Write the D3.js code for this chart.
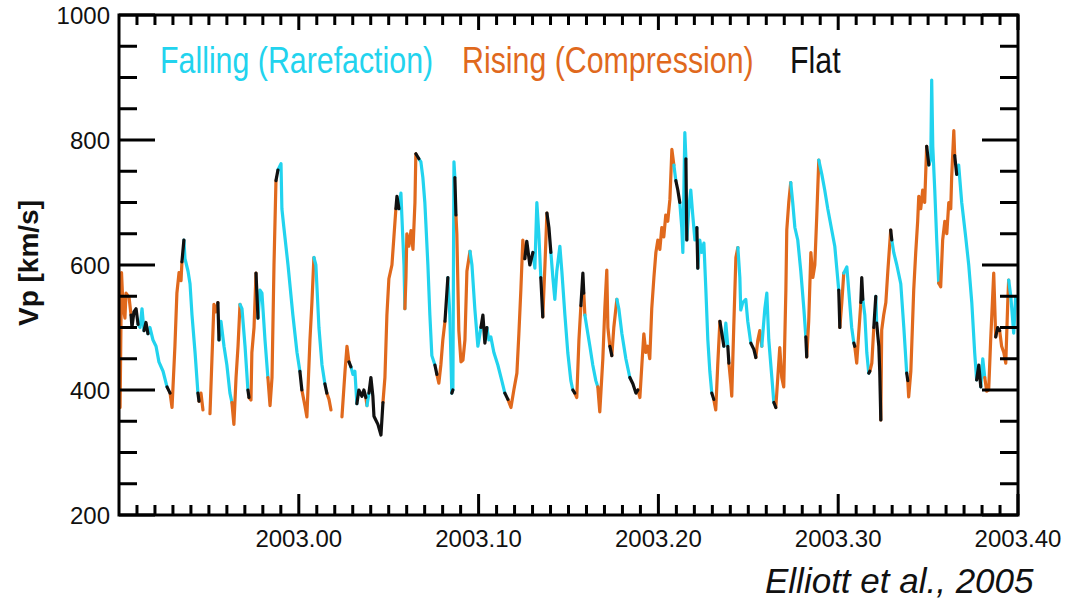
<!DOCTYPE html>
<html>
<head>
<meta charset="utf-8">
<script src="https://cdn.jsdelivr.net/npm/d3@7/dist/d3.min.js"></script>
<style>
  html, body { margin: 0; padding: 0; background: #fff; }
  svg { display: block; }
  text { font-family: "Liberation Sans", Arial, Helvetica, sans-serif; }
</style>
</head>
<body>
<svg id="chart" width="1071" height="604"></svg>
<script>
// ---- DATA ----
const years = [
2002.9006,2002.9014,2002.9022,2002.9033,2002.9039,2002.9056,2002.9067,2002.9072,2002.9083,2002.9095,2002.9106,2002.9117,2002.9128,2002.9139,2002.9150,2002.9161,2002.9172,2002.9189,2002.9206,2002.9222,2002.9245,2002.9267,2002.9284,2002.9295,2002.9311,2002.9322,2002.9334,2002.9345,2002.9350,2002.9361,2002.9367,2002.9384,2002.9395,2002.9406,2002.9423,2002.9439,2002.9445,2002.9456,2002.9467,2002.9485,
2002.9506,2002.9517,2002.9528,2002.9539,2002.9550,2002.9556,2002.9567,2002.9584,2002.9600,2002.9617,2002.9628,2002.9639,2002.9651,2002.9662,2002.9673,2002.9684,2002.9701,2002.9717,2002.9723,2002.9734,2002.9739,2002.9751,2002.9762,2002.9773,2002.9784,2002.9795,2002.9812,2002.9828,2002.9840,2002.9851,2002.9862,2002.9873,2002.9884,2002.9901,2002.9906,2002.9917,2002.9940,2002.9967,2002.9990,2003.0006,
2003.0017,2003.0034,2003.0045,2003.0062,2003.0073,2003.0084,2003.0095,2003.0112,2003.0129,2003.0145,2003.0156,2003.0168,2003.0179,2003.0210,2003.0240,2003.0257,2003.0268,2003.0279,2003.0290,2003.0301,
2003.0312,2003.0323,2003.0334,2003.0351,2003.0362,2003.0373,2003.0379,2003.0390,2003.0401,2003.0412,2003.0418,2003.0440,2003.0457,2003.0468,2003.0479,2003.0490,2003.0501,2003.0518,2003.0529,2003.0540,
2003.0546,2003.0557,2003.0568,2003.0573,2003.0585,2003.0590,2003.0596,2003.0601,2003.0612,2003.0624,2003.0635,2003.0646,2003.0651,2003.0668,2003.0679,2003.0690,2003.0701,2003.0707,2003.0718,2003.0729,
2003.0740,2003.0757,2003.0768,2003.0779,2003.0790,2003.0801,2003.0813,2003.0829,2003.0840,2003.0851,2003.0857,2003.0863,2003.0868,2003.0874,2003.0879,2003.0890,2003.0902,2003.0913,2003.0924,2003.0935,
2003.0952,2003.0963,2003.0979,2003.0996,2003.1013,2003.1024,2003.1035,2003.1046,2003.1057,2003.1068,2003.1085,2003.1107,2003.1129,2003.1146,2003.1163,2003.1180,2003.1196,2003.1213,2003.1224,2003.1235,
2003.1246,2003.1257,2003.1268,2003.1285,2003.1302,2003.1313,2003.1324,2003.1335,2003.1346,2003.1357,2003.1369,2003.1380,2003.1391,2003.1402,2003.1413,2003.1424,2003.1435,2003.1452,2003.1463,2003.1480,
2003.1496,2003.1513,2003.1524,2003.1535,2003.1546,2003.1558,2003.1569,2003.1580,2003.1585,2003.1591,2003.1602,2003.1619,2003.1635,2003.1652,2003.1663,2003.1674,2003.1691,2003.1702,2003.1713,2003.1719,
2003.1730,2003.1741,2003.1752,2003.1769,2003.1780,2003.1797,2003.1819,2003.1841,2003.1858,2003.1875,2003.1886,2003.1897,2003.1908,2003.1919,2003.1930,2003.1941,2003.1952,2003.1963,2003.1975,2003.1986,
2003.1997,2003.2008,2003.2019,2003.2030,2003.2041,2003.2052,2003.2064,2003.2075,2003.2086,2003.2097,2003.2108,2003.2119,2003.2130,2003.2136,2003.2147,2003.2153,2003.2158,2003.2169,2003.2180,2003.2191,
2003.2203,2003.2214,2003.2219,2003.2230,2003.2241,2003.2253,2003.2264,2003.2275,2003.2286,2003.2297,2003.2308,2003.2319,2003.2330,2003.2342,2003.2364,2003.2375,2003.2386,2003.2392,2003.2403,2003.2408,
2003.2419,2003.2431,2003.2442,2003.2453,2003.2458,2003.2469,2003.2486,2003.2497,2003.2514,2003.2531,2003.2542,2003.2553,2003.2564,2003.2575,2003.2592,2003.2603,2003.2614,2003.2631,2003.2642,2003.2653,
2003.2664,2003.2675,2003.2686,2003.2697,2003.2709,2003.2714,2003.2725,2003.2736,2003.2747,2003.2759,2003.2775,2003.2792,2003.2809,2003.2820,2003.2825,2003.2836,2003.2848,2003.2859,2003.2870,2003.2881,
2003.2892,2003.2909,2003.2925,2003.2942,2003.2964,2003.2981,2003.3003,2003.3009,2003.3020,2003.3031,2003.3048,2003.3064,2003.3075,2003.3087,2003.3092,2003.3103,2003.3114,2003.3126,2003.3131,2003.3137,
2003.3148,2003.3159,2003.3170,2003.3176,2003.3187,2003.3198,2003.3209,2003.3214,2003.3226,2003.3231,2003.3237,2003.3242,2003.3253,2003.3265,2003.3276,2003.3292,2003.3298,2003.3309,2003.3326,2003.3348,
2003.3365,2003.3381,2003.3387,2003.3392,2003.3404,2003.3420,2003.3431,2003.3442,2003.3448,2003.3459,2003.3470,2003.3481,2003.3492,2003.3504,2003.3515,2003.3520,2003.3526,2003.3537,2003.3548,2003.3559,
2003.3570,2003.3581,2003.3593,2003.3604,2003.3615,2003.3626,2003.3631,2003.3643,2003.3648,2003.3659,2003.3670,2003.3687,2003.3709,2003.3726,2003.3743,2003.3759,2003.3770,2003.3782,2003.3793,2003.3804,
2003.3815,2003.3826,2003.3837,2003.3848,2003.3865,2003.3876,2003.3887,2003.3898,2003.3909,2003.3921,2003.3932,2003.3943,2003.3948,2003.3960,2003.3976,2003.3987
];

// solar wind speed Vp [km/s]; null = data gap
const speeds = [
372,588,535,515,555,548,520,500,525,530,505,500,530,495,508,490,500,480,470,445,430,405,395,372,470,555,588,575,605,640,610,590,570,520,460,395,382,395,368,null,
362,450,537,525,540,480,510,470,440,395,380,345,420,470,537,530,470,400,388,384,460,500,587,515,560,555,480,420,375,420,600,735,752,762,690,660,600,520,460,430,
400,375,357,480,540,612,600,500,440,410,395,385,368,null,357,430,470,445,437,425,
430,378,400,390,400,388,375,395,420,390,358,345,328,380,420,520,578,600,645,690,
710,690,715,680,600,530,580,650,630,655,625,700,778,770,765,740,700,665,600,520,
455,440,425,411,440,480,510,580,520,395,400,765,740,680,650,495,445,448,480,590,
622,600,530,470,500,520,475,500,480,485,460,440,415,395,385,372,400,427,490,560,
640,610,638,600,620,595,700,650,580,517,600,683,660,620,580,545,590,630,590,520,
460,415,400,395,388,480,535,587,555,520,500,470,440,415,405,365,450,530,592,500,
470,455,500,545,530,490,450,420,410,395,400,388,440,490,460,470,450,530,580,620,
640,625,660,645,680,670,705,785,760,735,720,700,660,620,812,770,640,690,720,680,
640,660,595,640,620,635,560,480,430,395,385,368,440,510,470,507,470,443,410,390,
500,612,628,580,528,540,545,510,475,465,452,480,495,470,530,555,480,420,380,372,
420,468,420,405,560,656,700,732,700,660,640,590,530,485,453,510,620,580,600,680,
768,745,720,690,656,630,560,500,540,587,597,540,500,475,470,443,490,540,580,545,
520,460,427,430,443,500,550,507,470,430,352,496,520,540,590,656,640,620,600,570,
500,427,415,389,430,560,619,670,710,690,720,700,790,760,770,896,790,720,640,571,
565,640,670,650,700,690,740,815,775,745,760,700,645,600,540,460,416,440,405,450,
420,398,400,480,587,485,500,495,470,460,443,540,576,550,491,550
];

// regime of the stretch ending at each sample: F = falling, R = rising, N = flat
const regimeCodes = (
"RRRRRRRNNNNFFFNNFFFFFFNRRRRRRNFFFFFFNRRR" +
"RRRRRNFFFFFRRRRFFFNRRRRNFFFFRRRRNFFFFFFF" +
"NRRRRRFFFFNRRRRRRRNFFFNNNNRFNNNNNNRRRRRR" +
"NNFFFFRRRRRRRNFFFFFFFFNRRRRNFFNFFNRRRRRR" +
"RFFFFNNNFFFFFFNRRRRRRRNNNFFFFNRRNNFFFFFF" +
"FFFNRRRNNRFFFFFRRRRRRNRRFFFFNNNRRRRRRRRR" +
"RRRRRRRRRFNNFFFFNFFFFFNFFFFFFFNRRRNFFNRR" +
"RRRFFFFFFNNRRRFFFFFNRRRRRRRRFFFFFFNRRRRR" +
"RFFFFFFNRRFFFFNRRRNNFFFNRRNFNNNRRRRRNFFF" +
"FFNRRRRRRRRRRNFFFFFFRRRRRRRRRNFFFFFFFNNF" +
"FRRRRRNNRRRRRFFF").split("");

const legendLabels = ["Falling (Rarefaction)", "Rising (Compression)", "Flat"];
const legendCodes = ["F", "R", "N"];
const xTickValues = [2003.00, 2003.10, 2003.20, 2003.30, 2003.40];
const yTickValues = [200, 400, 600, 800, 1000];
const citation = "Elliott et al., 2005";
const yTitle = "Vp [km/s]";

// ---- LAYOUT ----
const colors = { F: "#22d3ee", R: "#e0691d", N: "#111111" };
const svg = d3.select("#chart");
const m = { left: 119, right: 1018, top: 15, bottom: 515 };

svg.append("rect").attr("width", 1071).attr("height", 604).attr("fill", "#fff");

const x = d3.scaleLinear().domain([2002.9, 2003.4]).range([m.left, m.right]);
const y = d3.scaleLinear().domain([200, 1000]).range([m.bottom, m.top]);

// ---- series, split into runs by regime ----
const pts = years.map((t, i) => ({ t, v: speeds[i], c: regimeCodes[i] }));
const runs = [];
let cur = null;
for (let i = 1; i < pts.length; i++) {
  const a = pts[i - 1], b = pts[i];
  if (a.v == null || b.v == null) { cur = null; continue; }
  if (cur && cur.c === b.c) { cur.p.push(b); }
  else { cur = { c: b.c, p: [a, b] }; runs.push(cur); }
}
const lineGen = d3.line().x(d => x(d.t)).y(d => y(d.v));
const order = { F: 0, R: 0, N: 1 };
svg.append("g").selectAll("path")
  .data(runs.slice().sort((a, b) => order[a.c] - order[b.c]))
  .join("path")
  .attr("d", d => lineGen(d.p))
  .attr("fill", "none")
  .attr("stroke", d => colors[d.c])
  .attr("stroke-width", 3.2)
  .attr("stroke-linejoin", "round")
  .attr("stroke-linecap", "round");

// ---- inward ticks: one small rect per tick, built from the scales ----
const xMinor = d3.range(1, 50).filter(i => i % 10 !== 0).map(i => 2002.9 + i * 0.01);
const yMinor = d3.range(250, 1000, 50).filter(v => v % 200 !== 0);
const tickRects = [];
yTickValues.forEach(v => {
  tickRects.push({ x: m.left, y: y(v) - 1.5, w: 36, h: 3 });
  tickRects.push({ x: m.right - 36, y: y(v) - 1.5, w: 36, h: 3 });
});
yMinor.forEach(v => {
  tickRects.push({ x: m.left, y: y(v) - 1.5, w: 18, h: 3 });
  tickRects.push({ x: m.right - 18, y: y(v) - 1.5, w: 18, h: 3 });
});
xTickValues.forEach(v => {
  tickRects.push({ x: x(v) - 1.5, y: m.bottom - 21, w: 3, h: 21 });
  tickRects.push({ x: x(v) - 1.5, y: m.top, w: 3, h: 15 });
});
xMinor.forEach(v => {
  tickRects.push({ x: x(v) - 1.5, y: m.bottom - 10, w: 3, h: 10 });
  tickRects.push({ x: x(v) - 1.5, y: m.top, w: 3, h: 10 });
});
svg.append("g").selectAll("rect").data(tickRects).join("rect")
  .attr("x", d => d.x).attr("y", d => d.y)
  .attr("width", d => d.w).attr("height", d => d.h)
  .attr("fill", "black");

// frame
svg.append("rect")
  .attr("x", m.left).attr("y", m.top)
  .attr("width", m.right - m.left).attr("height", m.bottom - m.top)
  .attr("fill", "none").attr("stroke", "black").attr("stroke-width", 3);

// ---- tick labels ----
svg.append("g").selectAll("text")
  .data(xTickValues)
  .join("text")
  .attr("x", d => x(d)).attr("y", 547)
  .attr("text-anchor", "middle")
  .attr("font-size", 24).attr("fill", "#111")
  .text(d => d3.format(".2f")(d));
svg.append("g").selectAll("text")
  .data(yTickValues)
  .join("text")
  .attr("x", 110).attr("y", d => y(d))
  .attr("dy", "0.36em")
  .attr("text-anchor", "end")
  .attr("font-size", 24).attr("fill", "#111")
  .text(d => d3.format("d")(d));

// y title
svg.append("text")
  .attr("transform", "translate(38,263) rotate(-90)")
  .attr("text-anchor", "middle")
  .attr("font-size", 28).attr("font-weight", "bold").attr("fill", "#111")
  .text(yTitle);

// legend
const legendX = [160, 462, 790];
svg.append("g").selectAll("text")
  .data(legendLabels)
  .join("text")
  .attr("transform", (d, i) => `translate(${legendX[i]},73) scale(0.82,1)`)
  .attr("font-size", 37)
  .attr("fill", (d, i) => colors[legendCodes[i]])
  .text(d => d);

// citation
svg.append("text")
  .attr("x", 765).attr("y", 593)
  .attr("font-size", 35).attr("font-style", "italic").attr("fill", "#111")
  .text(citation);
</script>
</body>
</html>
